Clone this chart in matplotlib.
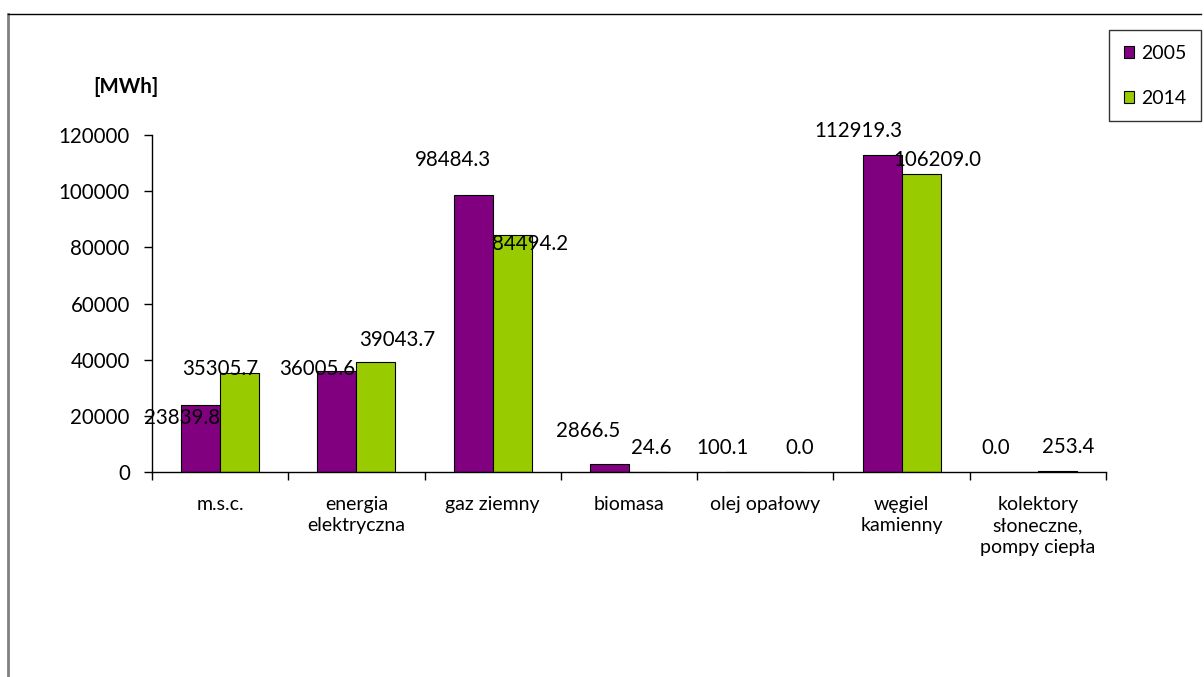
import matplotlib
matplotlib.use("Agg")
import matplotlib.pyplot as plt
from matplotlib.lines import Line2D
import numpy as np

categories = ["m.s.c.", "energia\nelektryczna", "gaz ziemny", "biomasa",
              "olej opałowy", "węgiel\nkamienny", "kolektory\nsłoneczne,\npompy ciepła"]
series_names = ["2005", "2014"]
values_2005 = [23839.8, 36005.6, 98484.3, 2866.5, 100.1, 112919.3, 0.0]
values_2014 = [35305.7, 39043.7, 84494.2, 24.6, 0.0, 106209.0, 253.4]
y_ticks = [0, 20000, 40000, 60000, 80000, 100000, 120000]
unit_label = "[MWh]"

# label offsets (pixels) relative to top-centre of each bar
off_2005 = [(-19, -13), (-20, 2), (-20, 35), (-21, 33), (-23, 24), (-24, 24), (-23, 24)]
off_2014 = [(-19, 4), (21, 22), (18, -9), (3, 24), (15, 24), (16, 14), (11, 24)]

plt.rcParams['font.family'] = ['Lato', 'DejaVu Sans']
FS = 14
FSN = 14.8
c2005 = "#800080"
c2014 = "#99CC00"

fig = plt.figure(figsize=(12.04, 6.77), dpi=100)
ax = fig.add_axes([152/1204, 1-472/677, (1106-152)/1204, (472-135)/677])

x = np.arange(len(categories)) + 0.5
w = 0.286
b1 = ax.bar(x - w/2, values_2005, w, color=c2005, edgecolor="black", linewidth=0.8, label=series_names[0])
b2 = ax.bar(x + w/2, values_2014, w, color=c2014, edgecolor="black", linewidth=0.8, label=series_names[1])

for bars, vals, offs in ((b1, values_2005, off_2005), (b2, values_2014, off_2014)):
    for r, v, (dx, dy) in zip(bars, vals, offs):
        ax.annotate(f"{v:.1f}", (r.get_x() + r.get_width()/2, v), xytext=(dx, dy),
                    textcoords="offset pixels", ha="center", va="center", fontsize=FSN)

ax.set_xlim(0, len(categories))
ax.set_ylim(0, 120000)
ax.set_yticks(y_ticks)
ax.set_yticklabels([str(t) for t in y_ticks], fontsize=FSN)
ax.tick_params(axis="y", length=6, width=1, pad=10, direction="out")

ax.set_xticks(x)
ax.set_xticklabels(categories, fontsize=FS, linespacing=1.34, va="top")
ax.set_xticks(np.arange(len(categories) + 1), minor=True)
ax.tick_params(axis="x", which="major", length=0, pad=17)
ax.tick_params(axis="x", which="minor", length=6, width=1, direction="out")

for s in ("top", "right"):
    ax.spines[s].set_visible(False)
for s in ("left", "bottom"):
    ax.spines[s].set_color("black")
    ax.spines[s].set_linewidth(1)

fig.text(126/1204, 1-87/677, unit_label, fontsize=FSN, fontweight="bold", ha="center", va="center")

leg = fig.legend(handles=[b1, b2], labels=series_names, loc="upper right",
                 bbox_to_anchor=(1201/1204, 1-30/677), fontsize=FS, frameon=True,
                 fancybox=False, edgecolor="black", handlelength=0.55, handleheight=0.55,
                 handletextpad=0.35, labelspacing=1.45, borderpad=0.75, borderaxespad=0)
leg.get_frame().set_linewidth(1)

# outer chart border (left & top)
fig.add_artist(Line2D([8/1204, 8/1204], [0, 1-14/677], color="#808080", linewidth=2, transform=fig.transFigure))
fig.add_artist(Line2D([8/1204, 1201/1204], [1-14/677, 1-14/677], color="black", linewidth=1, transform=fig.transFigure))

fig.savefig("out.png", dpi=100)
